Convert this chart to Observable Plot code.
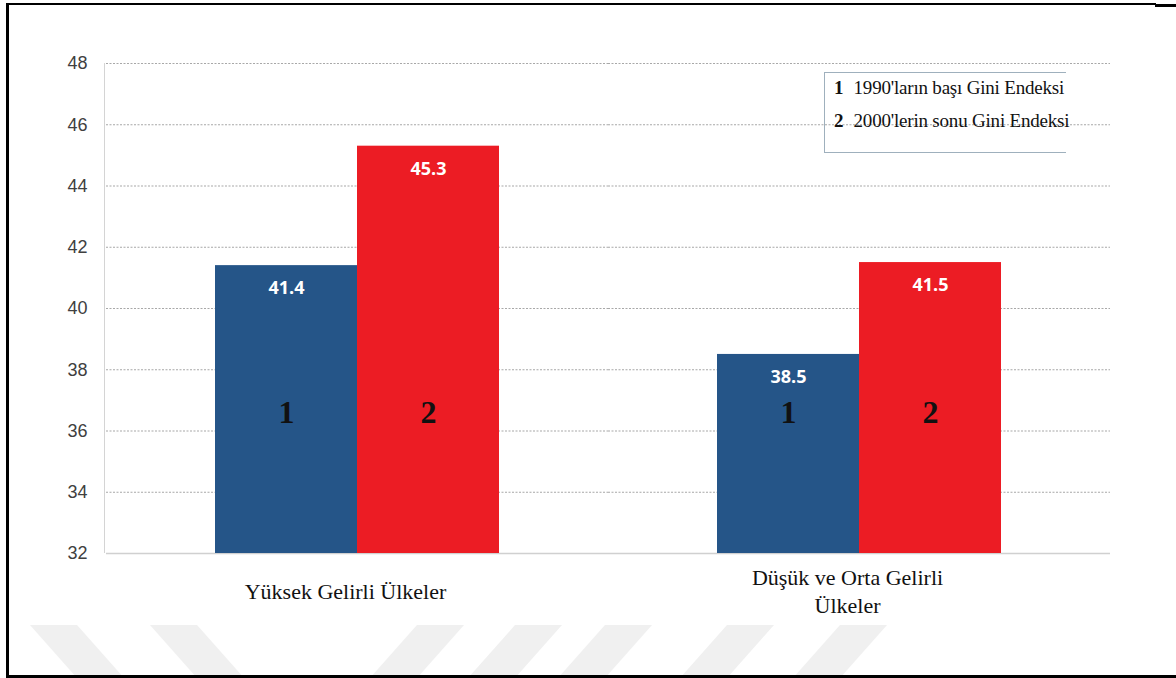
<!DOCTYPE html>
<html>
<head>
<meta charset="utf-8">
<script src="https://cdn.jsdelivr.net/npm/d3@7"></script>
<script src="https://cdn.jsdelivr.net/npm/@observablehq/plot@0.6"></script>
<style>
  html, body { margin: 0; padding: 0; background: #fff; }
  #wrap { position: relative; width: 1176px; height: 678px; overflow: hidden; background: #fff; }
  #wm { position: absolute; left: 0; top: 0; }
  #chart { position: absolute; left: 0; top: 0; }
  .border { position: absolute; background: #000; }
  #yline { position: absolute; left: 104px; top: 63px; width: 1px; height: 490px; background: #d4d4d4; }
  #legend { position: absolute; left: 824px; top: 72px; width: 241px; height: 79px;
            border-top: 1.5px solid #9fb0bd; border-left: 1.5px solid #9fb0bd; border-bottom: 1.5px solid #9fb0bd;
            font-family: "Liberation Serif", "DejaVu Serif", serif; font-size: 19px; color: #111; }
  #legend .row { position: absolute; left: 9px; white-space: nowrap; letter-spacing: -0.2px; }
  #legend b { display: inline-block; width: 15px; font-size: 19px; }
</style>
</head>
<body>
<div id="wrap">
  <svg id="wm" width="1176" height="678"></svg>
  <div id="chart"></div>
  <div id="yline"></div>
  <div id="legend"></div>
  <div class="border" style="left:6px; top:3px; width:3px; height:675px;"></div>
  <div class="border" style="left:6px; top:3px; width:1150px; height:2px;"></div>
  <div class="border" style="left:1155px; top:4px; width:21px; height:3px;"></div>
  <div class="border" style="left:6px; top:675px; width:1170px; height:3px;"></div>
</div>
<script>
// ---- data ----
const categories = ["Yüksek Gelirli Ülkeler", "Düşük ve Orta Gelirli Ülkeler"];
const categoryLabels = ["Yüksek Gelirli Ülkeler", "Düşük ve Orta Gelirli\nÜlkeler"];
const seriesKeys = ["1", "2"];
const seriesNames = ["1990'ların başı Gini Endeksi", "2000'lerin sonu Gini Endeksi"];
const values1990 = [41.4, 38.5];
const values2000 = [45.3, 41.5];
const yTicks = [32, 34, 36, 38, 40, 42, 44, 46, 48];
const colors = ["#255588", "#ec1c24"];

const rows = [];
categories.forEach((c, i) => {
  rows.push({category: c, series: seriesKeys[0], value: values1990[i]});
  rows.push({category: c, series: seriesKeys[1], value: values2000[i]});
});

// ---- decorative watermark stripes ----
const wm = d3.select("#wm");
const h0 = 625, h1 = 678, sw = 47, sl = 47;
[30, 150].forEach(x => wm.append("polygon")
  .attr("points", `${x},${h0} ${x+sw},${h0} ${x+sw+sl},${h1} ${x+sl},${h1}`).attr("fill", "#f0f0f0"));
[417, 515, 605, 727, 840].forEach(x => wm.append("polygon")
  .attr("points", `${x},${h0} ${x+sw},${h0} ${x+sw-sl},${h1} ${x-sl},${h1}`).attr("fill", "#f0f0f0"));

const chart = Plot.plot({
  width: 1176,
  height: 678,
  marginTop: 63,
  marginBottom: 125,
  marginLeft: 105,
  marginRight: 66,
  style: {background: "transparent", fontFamily: "'Liberation Sans', Arial, sans-serif"},
  fx: {domain: categories, padding: 0, axis: null, label: null},
  x: {domain: seriesKeys, paddingInner: 0, paddingOuter: 0.757, axis: null, label: null},
  y: {domain: [32, 48], axis: null, label: null},
  color: {domain: seriesKeys, range: colors},
  marks: [
    Plot.ruleY(yTicks.filter(d => d > 32), {stroke: "#a8a8a8", strokeDasharray: "2,1.5", strokeWidth: 1.2}),
    Plot.ruleY([32], {stroke: "#d0d0d0", strokeWidth: 1.5}),
    Plot.axisY({ticks: yTicks, tickSize: 0, tickPadding: 19, fontSize: 18, fill: "#404040", anchor: "left", label: null}),
    Plot.barY(rows, {fx: "category", x: "series", y1: 32, y2: "value", fill: "series"}),
    Plot.text(rows, {fx: "category", x: "series", y: "value", text: d => d.value.toFixed(1),
      dy: 23, fill: "white", fontWeight: "bold", fontSize: 18, fontFamily: "'Open Sans', sans-serif"}),
    Plot.text(rows, {fx: "category", x: "series", y: 36.6, text: "series",
      fill: "#111", fontWeight: "bold", fontSize: 32, fontFamily: "'Liberation Serif', serif"}),
    Plot.text(categories, {fx: d => d, text: d => categoryLabels[categories.indexOf(d)],
      frameAnchor: "bottom", lineAnchor: "middle", dy: 37, dx: -12, fill: "#111",
      fontSize: 22, lineHeight: 1.27, fontFamily: "'Liberation Serif', serif"})
  ]
});
document.getElementById("chart").appendChild(chart);

// legend (HTML)
const legend = d3.select("#legend");
seriesKeys.forEach((k, i) => {
  const row = legend.append("div").attr("class", "row").style("top", (4 + i * 33) + "px");
  row.append("b").text(k);
  row.append("span").text(" " + seriesNames[i]);
});
</script>
</body>
</html>
